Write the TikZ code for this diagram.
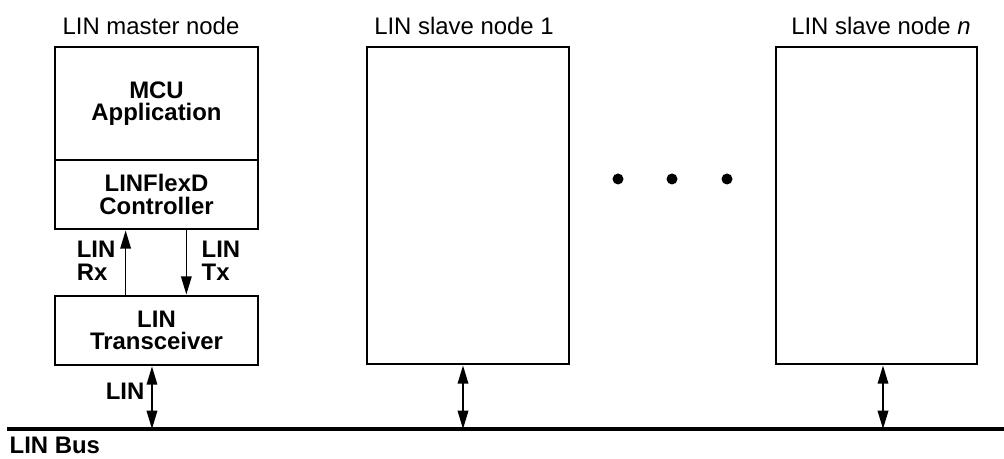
\documentclass[tikz,border=0pt]{standalone}
\usepackage{fontspec}
\setmainfont{Liberation Sans}
\usepackage{tikz}
\usetikzlibrary{arrows.meta,calc}
\definecolor{figline}{RGB}{0,0,0}
\tikzset{
  box/.style  ={draw=figline, line width=2pt, inner sep=0pt, align=center,
                font=\fontsize{17}{16}\selectfont\bfseries},
  lab/.style  ={font=\fontsize{17}{16}\selectfont, inner sep=1pt},
  labb/.style ={font=\fontsize{17}{16}\selectfont\bfseries, inner sep=1pt, align=left},
  sig/.style  ={draw=figline, line width=1.2pt, -{Triangle[length=13pt,width=7.5pt]}},
  sigd/.style ={draw=figline, line width=1.2pt,
                {Triangle[length=13pt,width=7.5pt]}-{Triangle[length=13pt,width=7.5pt]}},
  bus/.style  ={draw=figline, line width=2.8pt, line cap=butt},
}

\begin{document}
\begin{tikzpicture}[x=0.025cm,y=0.025cm]
  \useasboundingbox (0,0) rectangle (1004,459);
  % master node
  \node[box,minimum width=5.075cm,minimum height=2.825cm] (app) at (156.5,355.5) {MCU\\Application};
  \node[box,minimum width=5.075cm,minimum height=1.725cm] (ctrl) at (156.5,264.5) {LINFlexD\\Controller};
  \node[box,minimum width=5.075cm,minimum height=1.725cm] (xcvr) at (156.5,128.5) {LIN\\Transceiver};
  \node[lab] (tm) at (151,433) {LIN master node};
  % slave nodes
  \node[box,minimum width=5.05cm,minimum height=7.925cm] (s1) at (468,253.5) {};
  \node[box,minimum width=5.025cm,minimum height=7.925cm] (sn) at (876.5,253.5) {};
  \node[lab] (t1) at (464,433) {LIN slave node 1};
  \node[lab] (tn) at (881,433) {LIN slave node \textit{n}};
  % dots
  \fill[figline] (618,280) circle (5.5);
  \fill[figline] (672,280) circle (5.5);
  \fill[figline] (727,280) circle (5.5);
  % bus
  \coordinate (busl) at (7,30);
  \coordinate (busr) at (1004,30);
  \draw[bus] (busl) -- (busr);
  \node[labb,anchor=base west] (bl) at (8,5) {LIN Bus};
  % Rx / Tx
  \coordinate (rxb) at ($(xcvr.north west)!0.35!(xcvr.north east)$);
  \coordinate (txb) at ($(xcvr.north west)!0.645!(xcvr.north east)$);
  \draw[sig] (rxb) -- (rxb |- ctrl.south);
  \draw[sig] (txb |- ctrl.south) -- (txb);
  \node[labb,anchor=east] (rx) at (117,198) {LIN\\Rx};
  \node[labb,anchor=west] (tx) at (200,198) {LIN\\Tx};
  % bus links
  \coordinate (lm) at ($(xcvr.south west)!0.478!(xcvr.south east)$);
  \draw[sigd] (lm) -- (lm |- busl);
  \node[labb,anchor=east] (ll) at (146,68) {LIN};
  \coordinate (l1) at ($(s1.south)+(-5,0)$);
  \draw[sigd] (l1) -- (l1 |- busl);
  \coordinate (ln) at ($(sn.south)+(6.5,0)$);
  \draw[sigd] (ln) -- (ln |- busl);
\end{tikzpicture}
\end{document}
